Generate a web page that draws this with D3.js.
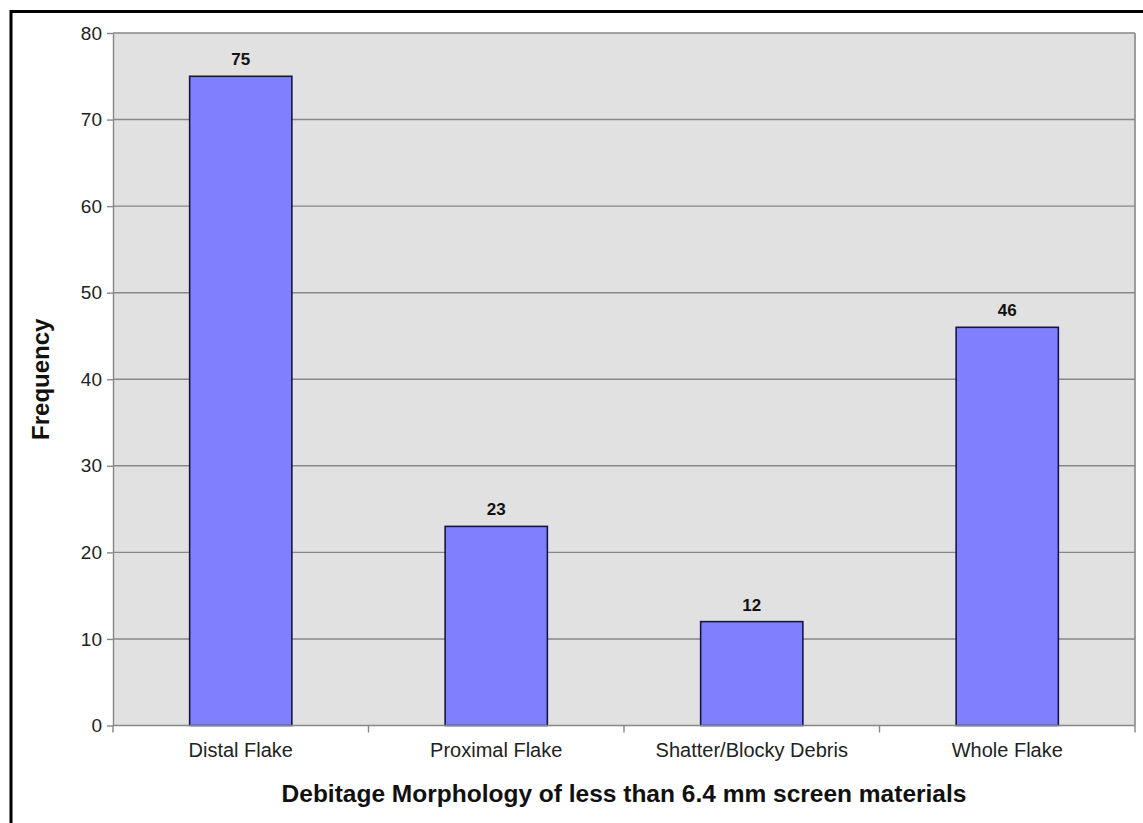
<!DOCTYPE html>
<html>
<head>
<meta charset="utf-8">
<script src="https://cdn.jsdelivr.net/npm/d3@7"></script>
<style>
  html, body { margin: 0; padding: 0; background: #ffffff; }
  svg { display: block; font-family: "Liberation Sans", Arial, Helvetica, sans-serif; }
</style>
</head>
<body>
<svg id="chart" width="1143" height="823"></svg>
<script>
// ---- data ----
const categories = ["Distal Flake", "Proximal Flake", "Shatter/Blocky Debris", "Whole Flake"];
const frequencies = [75, 23, 12, 46];
const yTicks = [0, 10, 20, 30, 40, 50, 60, 70, 80];
const xAxisTitle = "Debitage Morphology of less than 6.4 mm screen materials";
const yAxisTitle = "Frequency";

// ---- layout ----
const W = 1143, H = 823;
const plot = { left: 113, right: 1135, top: 33, bottom: 725.5 };

const svg = d3.select("#chart");

// outer frame (only top/left visible in the reference crop)
svg.append("rect")
  .attr("x", 11).attr("y", 11.5)
  .attr("width", 1300).attr("height", 1000)
  .attr("fill", "#ffffff")
  .attr("stroke", "#000000").attr("stroke-width", 3);

const x = d3.scaleBand().domain(categories).range([plot.left, plot.right]).padding(0);
const y = d3.scaleLinear().domain([0, 80]).range([plot.bottom, plot.top]);

// plot background
svg.append("rect")
  .attr("x", plot.left).attr("y", plot.top)
  .attr("width", plot.right - plot.left).attr("height", plot.bottom - plot.top)
  .attr("fill", "#e1e1e1");

// gridlines
svg.append("g").selectAll("line")
  .data(yTicks.filter(d => d > 0))
  .join("line")
  .attr("x1", plot.left).attr("x2", plot.right)
  .attr("y1", d => y(d)).attr("y2", d => y(d))
  .attr("stroke", "#878787").attr("stroke-width", 1.4);

// right border of plot
svg.append("line")
  .attr("x1", plot.right).attr("x2", plot.right)
  .attr("y1", plot.top).attr("y2", plot.bottom)
  .attr("stroke", "#878787").attr("stroke-width", 1.6);

// y axis
const yAxis = d3.axisLeft(y).tickValues(yTicks).tickSize(6).tickPadding(5).tickSizeOuter(0);
const gy = svg.append("g").attr("transform", `translate(${plot.left},0)`).call(yAxis);
gy.select(".domain").attr("stroke", "#878787").attr("stroke-width", 1.4);
gy.selectAll(".tick line").attr("stroke", "#878787").attr("stroke-width", 1.4);
gy.selectAll(".tick text")
  .attr("fill", "#222").attr("font-size", 19)
  .attr("font-family", "'Liberation Sans', Arial, sans-serif");

// bars
const barFrac = 0.4;
svg.append("g").selectAll("rect")
  .data(categories)
  .join("rect")
  .attr("x", d => x(d) + x.bandwidth() * (1 - barFrac) / 2)
  .attr("width", x.bandwidth() * barFrac)
  .attr("y", (d, i) => y(frequencies[i]))
  .attr("height", (d, i) => y(0) - y(frequencies[i]))
  .attr("fill", "#8080ff")
  .attr("stroke", "#14144a").attr("stroke-width", 1.6);

// x axis line + ticks at band boundaries
svg.append("line")
  .attr("x1", plot.left).attr("x2", plot.right)
  .attr("y1", plot.bottom).attr("y2", plot.bottom)
  .attr("stroke", "#878787").attr("stroke-width", 1.6);
const boundaries = categories.map(c => x(c)).concat([plot.right]);
svg.append("g").selectAll("line")
  .data(boundaries)
  .join("line")
  .attr("x1", d => d).attr("x2", d => d)
  .attr("y1", plot.bottom).attr("y2", plot.bottom + 7)
  .attr("stroke", "#878787").attr("stroke-width", 1.4);

// category labels
svg.append("g").selectAll("text")
  .data(categories)
  .join("text")
  .attr("x", d => x(d) + x.bandwidth() / 2)
  .attr("y", 757)
  .attr("text-anchor", "middle")
  .attr("font-size", 20)
  .attr("fill", "#222")
  .text(d => d);

// value labels
svg.append("g").selectAll("text")
  .data(categories)
  .join("text")
  .attr("x", d => x(d) + x.bandwidth() / 2)
  .attr("y", (d, i) => y(frequencies[i]) - 11)
  .attr("text-anchor", "middle")
  .attr("font-size", 17)
  .attr("font-weight", "bold")
  .attr("fill", "#111")
  .text((d, i) => frequencies[i]);

// axis titles
svg.append("text")
  .attr("x", (plot.left + plot.right) / 2)
  .attr("y", 802)
  .attr("text-anchor", "middle")
  .attr("font-size", 24.5)
  .attr("font-weight", "bold")
  .attr("fill", "#111")
  .text(xAxisTitle);

svg.append("text")
  .attr("transform", `translate(49,${(plot.top + plot.bottom) / 2}) rotate(-90)`)
  .attr("text-anchor", "middle")
  .attr("font-size", 24)
  .attr("font-weight", "bold")
  .attr("fill", "#111")
  .text(yAxisTitle);
</script>
</body>
</html>
